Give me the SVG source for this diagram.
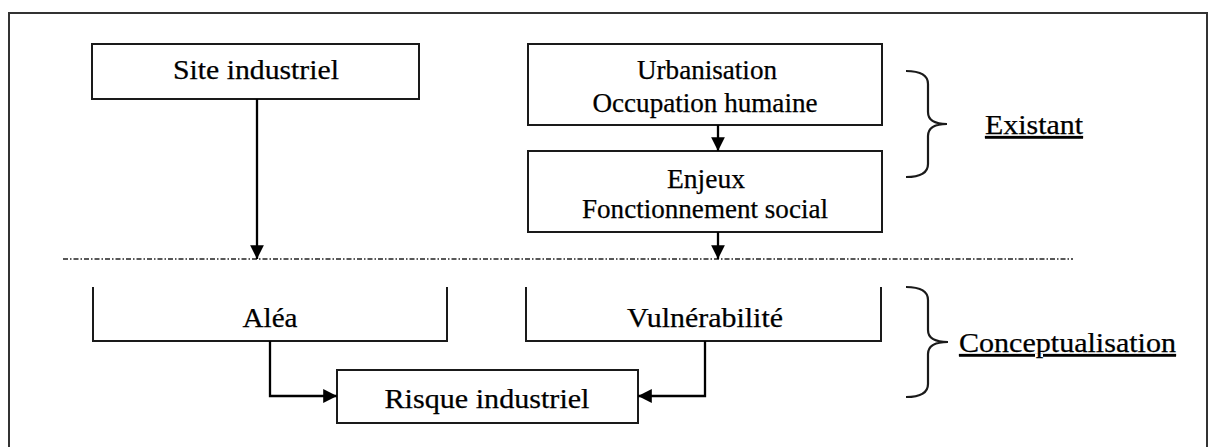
<svg xmlns="http://www.w3.org/2000/svg" width="1210" height="447" viewBox="0 0 1210 447">
  <style>
    .box { fill: #ffffff; stroke: #1a1a1a; stroke-width: 2; }
    .open { fill: none; stroke: #1a1a1a; stroke-width: 2; }
    .lbl { font-family: "Liberation Serif", "Times New Roman", serif; font-size: 27px; fill: #000; stroke: #000; stroke-width: 0.25; text-anchor: middle; }
    .side { font-family: "Liberation Serif", "Times New Roman", serif; font-size: 27px; fill: #000; stroke: #000; stroke-width: 0.25; text-decoration: underline; }
    .wire { fill: none; stroke: #000; stroke-width: 2.3; }
    .brace { fill: none; stroke: #1a1a1a; stroke-width: 2.2; }
  </style>
  <defs>
    <marker id="arrow" viewBox="0 0 10 10" refX="10" refY="5" markerWidth="6.5" markerHeight="6" markerUnits="strokeWidth" orient="auto">
      <path d="M0,0 L10,5 L0,10 Z" fill="#000"/>
    </marker>
  </defs>

  <rect width="1210" height="447" fill="#ffffff"/>

  <!-- outer frame (open at the bottom) -->
  <path d="M9,447 V13 H1207 V447" fill="none" stroke="#333" stroke-width="2"/>

  <!-- separator between the existing situation and its conceptualisation -->
  <line x1="63" y1="259" x2="1073" y2="259" stroke="#222" stroke-width="1.5" stroke-dasharray="5 2 1.5 2"/>

  <g id="site-industriel">
    <rect class="box" x="92" y="44" width="327" height="55"/>
    <text class="lbl" x="256" y="79" textLength="166" lengthAdjust="spacingAndGlyphs">Site industriel</text>
  </g>

  <g id="urbanisation">
    <rect class="box" x="528" y="44" width="354" height="81"/>
    <text class="lbl" x="707" y="79" textLength="140" lengthAdjust="spacingAndGlyphs">Urbanisation</text>
    <text class="lbl" x="705" y="112" textLength="225" lengthAdjust="spacingAndGlyphs">Occupation humaine</text>
  </g>

  <g id="enjeux">
    <rect class="box" x="528" y="151" width="354" height="81"/>
    <text class="lbl" x="706" y="188" textLength="78" lengthAdjust="spacingAndGlyphs">Enjeux</text>
    <text class="lbl" x="705" y="218" textLength="246" lengthAdjust="spacingAndGlyphs">Fonctionnement social</text>
  </g>

  <g id="alea">
    <path class="open" d="M93,287 V341 H447 V287"/>
    <text class="lbl" x="270" y="327" textLength="55" lengthAdjust="spacingAndGlyphs">Aléa</text>
  </g>

  <g id="vulnerabilite">
    <path class="open" d="M526,287 V341 H881 V287"/>
    <text class="lbl" x="705" y="327" textLength="156" lengthAdjust="spacingAndGlyphs">Vulnérabilité</text>
  </g>

  <g id="risque-industriel">
    <rect class="box" x="337" y="370" width="301" height="53"/>
    <text class="lbl" x="487" y="408" textLength="205" lengthAdjust="spacingAndGlyphs">Risque industriel</text>
  </g>

  <g id="existant">
    <path class="brace" d="M906,71 Q928,71 928,84 V112 Q928,124 947,124 Q928,124 928,136 V164 Q928,177 906,177"/>
    <text class="side" x="985" y="134" textLength="98" lengthAdjust="spacingAndGlyphs">Existant</text>
  </g>

  <g id="conceptualisation">
    <path class="brace" d="M906,287 Q928,287 928,300 V330 Q928,342 948,342 Q928,342 928,354 V384 Q928,397 906,397"/>
    <text class="side" x="959" y="352" textLength="217" lengthAdjust="spacingAndGlyphs">Conceptualisation</text>
  </g>

  <g id="connectors">
    <line class="wire" x1="257" y1="99" x2="257" y2="259" marker-end="url(#arrow)"/>
    <line class="wire" x1="718" y1="125" x2="718" y2="151" marker-end="url(#arrow)"/>
    <line class="wire" x1="718" y1="232" x2="718" y2="259" marker-end="url(#arrow)"/>
    <path class="wire" d="M270,341 V396 H337" marker-end="url(#arrow)"/>
    <path class="wire" d="M705,341 V396 H638" marker-end="url(#arrow)"/>
  </g>
</svg>
